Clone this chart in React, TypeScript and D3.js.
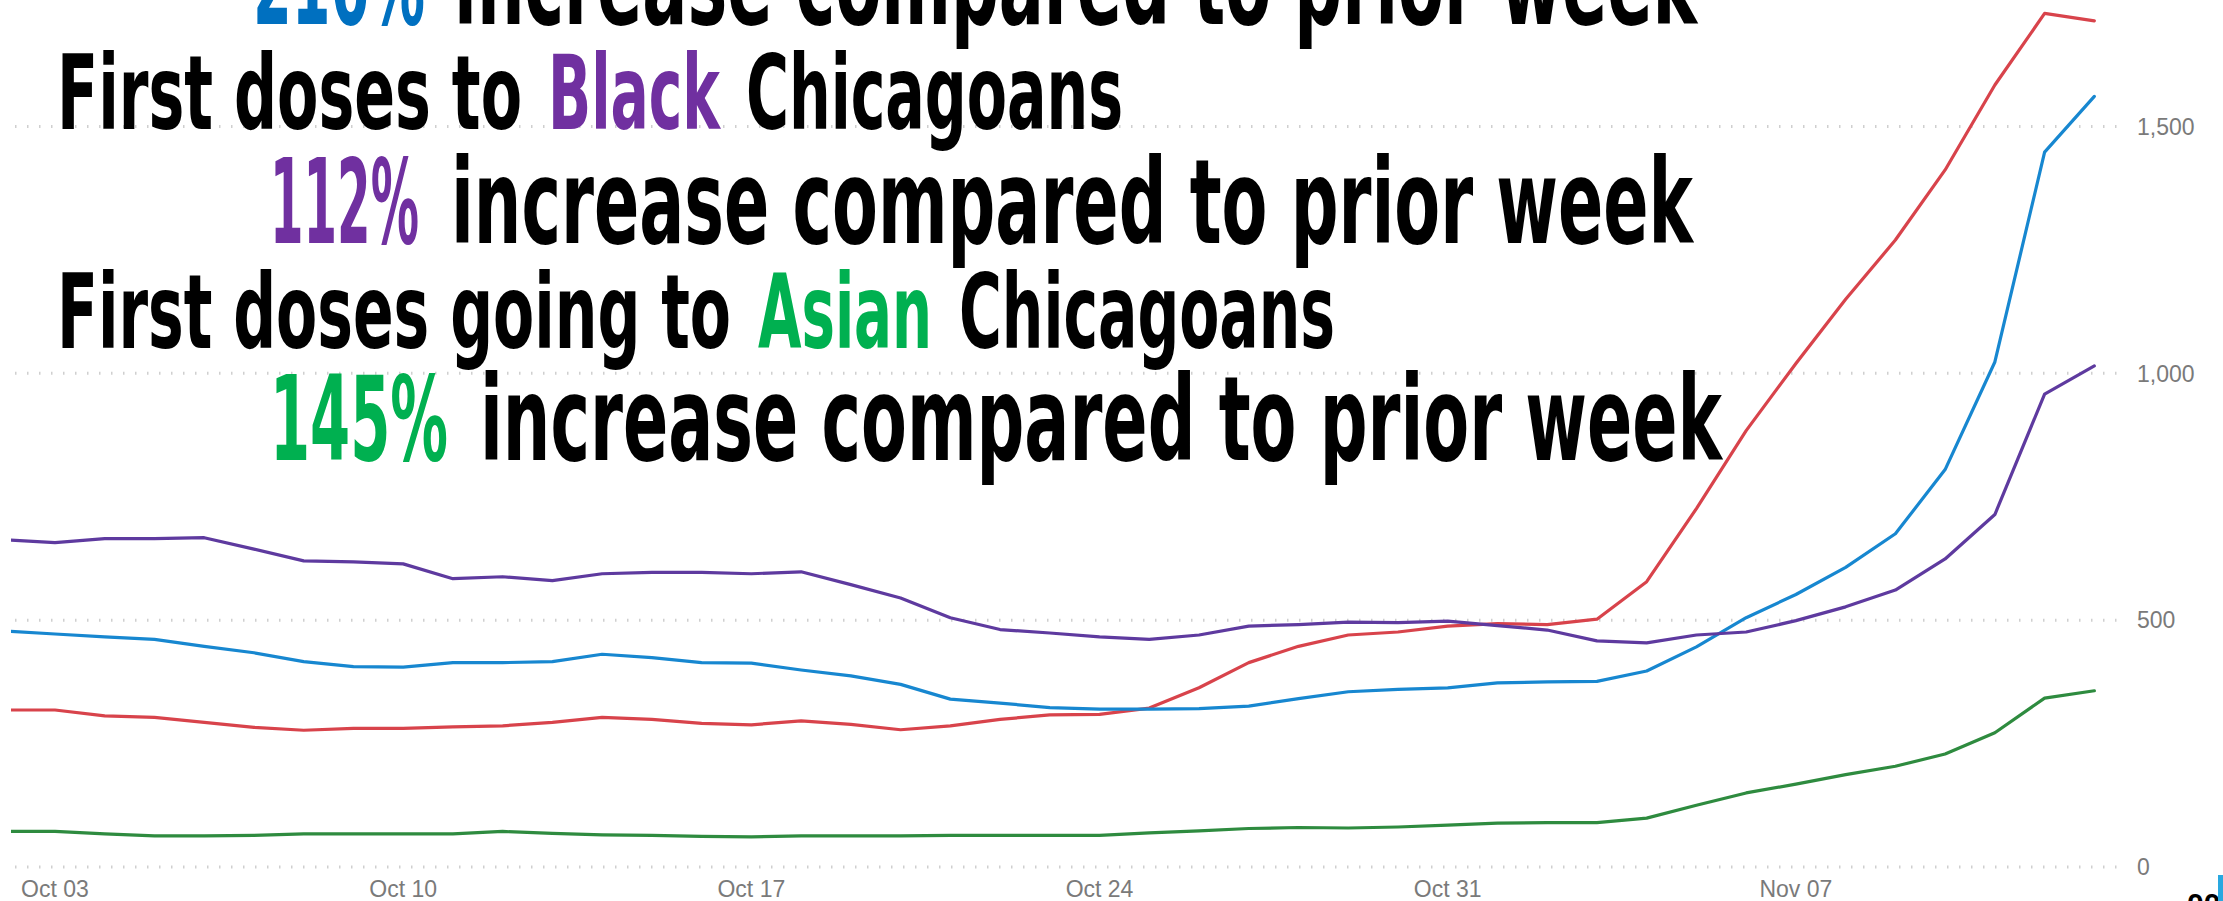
import React from "react";
import * as d3 from "d3";

// ---------- data ----------
const START = new Date(2021, 9, 2);
const END = new Date(2021, 10, 14);
const dates: Date[] = d3.timeDay.range(START, END); // Oct 02 .. Nov 13 (43 days)

const blackSeries = [
  663, 657, 665, 665, 667, 644, 620, 618, 614, 584, 588, 580, 594, 597, 597, 594,
  598, 572, 545, 505, 481, 474, 466, 461, 470, 488, 491, 496, 495, 498, 489, 480,
  458, 454, 470, 476, 499, 527, 561, 624, 714, 958, 1015,
];
const blueSeries = [
  478, 472, 466, 461, 447, 434, 416, 406, 405, 414, 414, 416, 431, 424, 414, 413,
  399, 387, 370, 340, 332, 323, 320, 320, 321, 326, 341, 355, 360, 363, 373, 375,
  376, 397, 446, 505, 552, 607, 675, 805, 1023, 1448, 1561,
];
const redSeries = [
  318, 318, 306, 303, 293, 283, 277, 281, 281, 284, 286, 293, 303, 299, 291, 288,
  296, 289, 278, 286, 299, 308, 309, 322, 363, 414, 447, 470, 476, 488, 493, 491,
  502, 578, 726, 884, 1020, 1150, 1270, 1412, 1584, 1729, 1714,
];
const asianSeries = [
  72, 72, 67, 63, 63, 64, 67, 67, 67, 67, 72, 68, 65, 64, 62, 61,
  63, 63, 63, 64, 64, 64, 64, 69, 73, 78, 80, 79, 81, 85, 89, 90,
  90, 99, 125, 150, 168, 187, 204, 229, 272, 342, 357,
];

const yTicks = [0, 500, 1000, 1500];
const xTickDates = [
  new Date(2021, 9, 3),
  new Date(2021, 9, 10),
  new Date(2021, 9, 17),
  new Date(2021, 9, 24),
  new Date(2021, 9, 31),
  new Date(2021, 10, 7),
];
const xTickLabels = ["Oct 03", "Oct 10", "Oct 17", "Oct 24", "Oct 31", "Nov 07"];

// ---------- styles / layout ----------
const W = 2223;
const H = 901;
const BLUE_T = "#0070c0";
const PURPLE_T = "#7030a0";
const GREEN_T = "#00b050";

const seriesStyle = [
  { values: asianSeries, color: "#2e8b3f" },
  { values: redSeries, color: "#d8434b" },
  { values: blueSeries, color: "#1787d0" },
  { values: blackSeries, color: "#5e3a9f" },
];

type Seg = { t: string; c?: string; x0: number; x1: number };
const noteLines: { baseline: number; size: number; segs: Seg[] }[] = [
  {
    baseline: 24,
    size: 118,
    segs: [
      { t: "216%", c: BLUE_T, x0: 253, x1: 425 },
      { t: "increase compared to prior week", x0: 454, x1: 1697 },
    ],
  },
  {
    baseline: 129,
    size: 104,
    segs: [
      { t: "First doses to", x0: 57, x1: 522 },
      { t: "Black", c: PURPLE_T, x0: 548, x1: 720 },
      { t: "Chicagoans", x0: 746, x1: 1123 },
    ],
  },
  {
    baseline: 243,
    size: 118,
    segs: [
      { t: "112%", c: PURPLE_T, x0: 270, x1: 419 },
      { t: "increase compared to prior week", x0: 451, x1: 1693 },
    ],
  },
  {
    baseline: 348,
    size: 104,
    segs: [
      { t: "First doses going to", x0: 57, x1: 731 },
      { t: "Asian", c: GREEN_T, x0: 758, x1: 932 },
      { t: "Chicagoans", x0: 959, x1: 1335 },
    ],
  },
  {
    baseline: 460,
    size: 118,
    segs: [
      { t: "145%", c: GREEN_T, x0: 270, x1: 448 },
      { t: "increase compared to prior week", x0: 480, x1: 1722 },
    ],
  },
];

const x = d3
  .scaleTime()
  .domain([new Date(2021, 9, 3), new Date(2021, 10, 7)])
  .range([55, 55 + 49.74 * 35]);
const y = d3.scaleLinear().domain([0, 1500]).range([867, 126.5]);
const fmt = d3.format(",");

const lineGen = d3
  .line<number>()
  .x((_, i) => x(dates[i]))
  .y((v) => y(v));

const AXIS_FONT = "'Liberation Sans', Arial, sans-serif";
const NOTE_FONT = "'DejaVu Sans Condensed', 'DejaVu Sans', sans-serif";

export default function App() {
  return (
    <svg
      width={W}
      height={H}
      viewBox={`0 0 ${W} ${H}`}
      style={{ position: "absolute", left: 0, top: 0, display: "block", background: "#fff" }}
    >
      <defs>
        <clipPath id="plotClip">
          <rect x={11} y={0} width={2120} height={H} />
        </clipPath>
      </defs>
      <rect x={0} y={0} width={W} height={H} fill="#fff" />

      {/* gridlines */}
      {yTicks.map((t) => (
        <line
          key={"g" + t}
          x1={15}
          x2={2121}
          y1={y(t)}
          y2={y(t)}
          stroke="#cfcfcf"
          strokeWidth={3}
          strokeDasharray="1.5 10.5"
        />
      ))}

      {/* y labels */}
      {yTicks.map((t) => (
        <text
          key={"yl" + t}
          x={2137}
          y={y(t)}
          dy="0.36em"
          fontFamily={AXIS_FONT}
          fontSize={23}
          fill="#7a7a7a"
        >
          {fmt(t)}
        </text>
      ))}

      {/* x labels */}
      {xTickDates.map((d, i) => (
        <text
          key={"xl" + i}
          x={x(d)}
          y={897}
          textAnchor="middle"
          fontFamily={AXIS_FONT}
          fontSize={23}
          fill="#7a7a7a"
        >
          {xTickLabels[i]}
        </text>
      ))}

      {/* series lines */}
      <g clipPath="url(#plotClip)">
        {seriesStyle.map((s, i) => (
          <path
            key={"s" + i}
            d={lineGen(s.values) || ""}
            fill="none"
            stroke={s.color}
            strokeWidth={3.2}
            strokeLinejoin="round"
            strokeLinecap="round"
          />
        ))}
      </g>

      {/* annotation text */}
      {noteLines.map((ln, li) =>
        ln.segs.map((s, si) => (
          <text
            key={`n${li}-${si}`}
            x={s.x0}
            y={ln.baseline}
            textLength={s.x1 - s.x0}
            lengthAdjust="spacingAndGlyphs"
            fontFamily={NOTE_FONT}
            fontWeight="bold"
            fontSize={ln.size}
            fill={s.c || "#000"}
          >
            {s.t}
          </text>
        ))
      )}

      {/* cropped screenshot remnants at bottom-right */}
      <text x={2187} y={914} fontFamily={AXIS_FONT} fontWeight="bold" fontSize={30} fill="#000">
        00
      </text>
      <rect x={2218} y={875} width={5} height={26} fill="#29a8e0" />
    </svg>
  );
}
